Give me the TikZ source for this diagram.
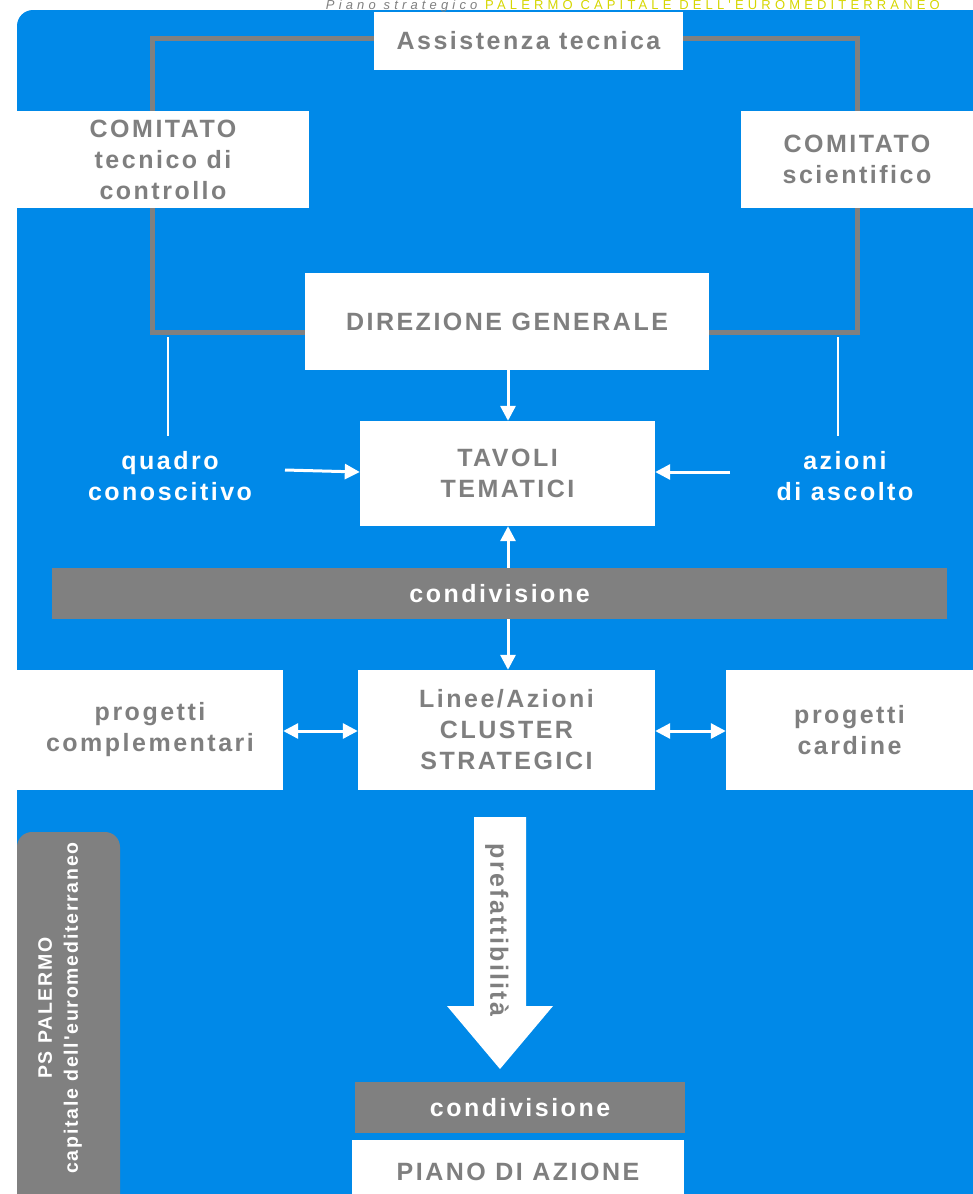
\documentclass[tikz,border=0pt]{standalone}
\usepackage{fontspec}
\setmainfont{Liberation Sans}
\newfontfamily\lab{Liberation Sans}[LetterSpace=10]
\newfontfamily\labwide{Liberation Sans}[LetterSpace=9]
\newfontfamily\hdrfont{Liberation Sans}[LetterSpace=32]
\usetikzlibrary{arrows.meta}
\definecolor{bgblue}{RGB}{0,137,232}
\definecolor{gframe}{RGB}{128,128,128}
\definecolor{gtext}{RGB}{127,127,127}
\definecolor{hdryellow}{RGB}{214,214,0}
\tikzset{
  wbox/.style={fill=white, draw=none, inner sep=0pt, align=center, text=gtext,
    font=\lab\bfseries\fontsize{25}{31}\selectfont},
  gbar/.style={fill=gframe, draw=none, inner sep=0pt, align=center, text=white,
    font=\lab\bfseries\fontsize{25}{31}\selectfont},
  wlabel/.style={inner sep=0pt, align=center, text=white,
    font=\lab\bfseries\fontsize{25}{31}\selectfont},
  warrow/.style={draw=white, line width=3pt, -{Triangle[length=15pt,width=15pt]}},
  wdarrow/.style={draw=white, line width=3pt, {Triangle[length=15pt,width=15pt]}-{Triangle[length=15pt,width=15pt]}},
  wline/.style={draw=white, line width=2pt},
}
\begin{document}
\begin{tikzpicture}[x=1pt,y=-1pt]
\useasboundingbox (0,0) rectangle (973,1194);
\clip (0,0) rectangle (973,1194);
% background
\fill[bgblue, rounded corners=16pt] (17,10) rectangle (990,1230);
% header
\node[anchor=base east, inner sep=0pt, font=\hdrfont\fontsize{13}{13}\selectfont] (hdr) at (940,9.8)
  {\textcolor{gtext}{\itshape Piano strategico} \textcolor{hdryellow}{PALERMO CAPITALE DELL'EUROMEDITERRANEO}};
% grey frame
\draw[gframe, line width=5pt] (152,38) rectangle (857,332);
% top boxes
\node[wbox, minimum width=309pt, minimum height=58pt] (assist) at (528.5,41) {Assistenza tecnica};
\node[wbox, minimum width=292pt, minimum height=97pt] (comtec) at (163,159.5) {COMITATO\\tecnico di\\controllo};
\node[wbox, minimum width=232pt, minimum height=97pt] (comsci) at (857,159.5) {COMITATO\\scientifico};
\node[wbox, minimum width=404pt, minimum height=97pt] (dir) at (507,321.5) {DIREZIONE GENERALE};
\node[wbox, minimum width=295pt, minimum height=105pt] (tavoli) at (507.5,473.5) {TAVOLI\\TEMATICI};
% thin white lines
\coordinate (ql1) at (168,337); \coordinate (ql2) at (168,436);
\coordinate (al1) at (838,337); \coordinate (al2) at (838,436);
\draw[wline] (ql1) -- (ql2);
\draw[wline] (al1) -- (al2);
% side labels
\node[wlabel] (quadro) at (170,476) {quadro\\conoscitivo};
\node[wlabel] (azioni) at (845,476) {azioni\\di ascolto};
\coordinate (qa) at (285,470);
\coordinate (aa) at (730,472);
\draw[warrow] (qa) -- (tavoli.west |- 0,472);
\draw[warrow] (aa) -- (tavoli.east |- 0,472);
\draw[warrow] (dir.south -| 508,0) -- (tavoli.north -| 508,0);
% middle
\node[wbox, minimum width=266pt, minimum height=120pt] (progc) at (150,730) {progetti\\complementari};
\node[wbox, minimum width=297pt, minimum height=120pt] (linee) at (506.5,730) {Linee/Azioni\\CLUSTER\\STRATEGICI};
\node[wbox, minimum width=247pt, minimum height=120pt] (progcard) at (849.5,730) {progetti\\cardine};
\draw[wdarrow] (tavoli.south -| 508,0) -- (linee.north -| 508,0);
\node[gbar, minimum width=895pt, minimum height=51pt] (cond1) at (499.5,593.5) {condivisione};
\draw[wdarrow] (progc.east |- 0,731) -- (linee.west |- 0,731);
\draw[wdarrow] (linee.east |- 0,731) -- (progcard.west |- 0,731);
% big arrow
\fill[white] (474,817) -- (526,817) -- (526,1006) -- (553,1006) -- (500,1069) -- (447,1006) -- (474,1006) -- cycle;
\node[rotate=-90, inner sep=0pt, text=gtext, font=\labwide\bfseries\fontsize{25}{25}\selectfont] (pref) at (497,930) {prefattibilità};
% bottom
\node[gbar, minimum width=330pt, minimum height=51pt] (cond2) at (520,1107.5) {condivisione};
\node[wbox, minimum width=332pt, minimum height=64pt] (piano) at (518,1172) {PIANO DI AZIONE};
% PS box
\fill[gframe, rounded corners=15pt] (17,832) rectangle (120,1230);
\node[rotate=90, inner sep=0pt, align=center, text=white, font=\labwide\bfseries\fontsize{19.5}{26}\selectfont] (ps) at (60,1008) {PS PALERMO\\capitale dell'euromediterraneo};
\end{tikzpicture}
\end{document}
